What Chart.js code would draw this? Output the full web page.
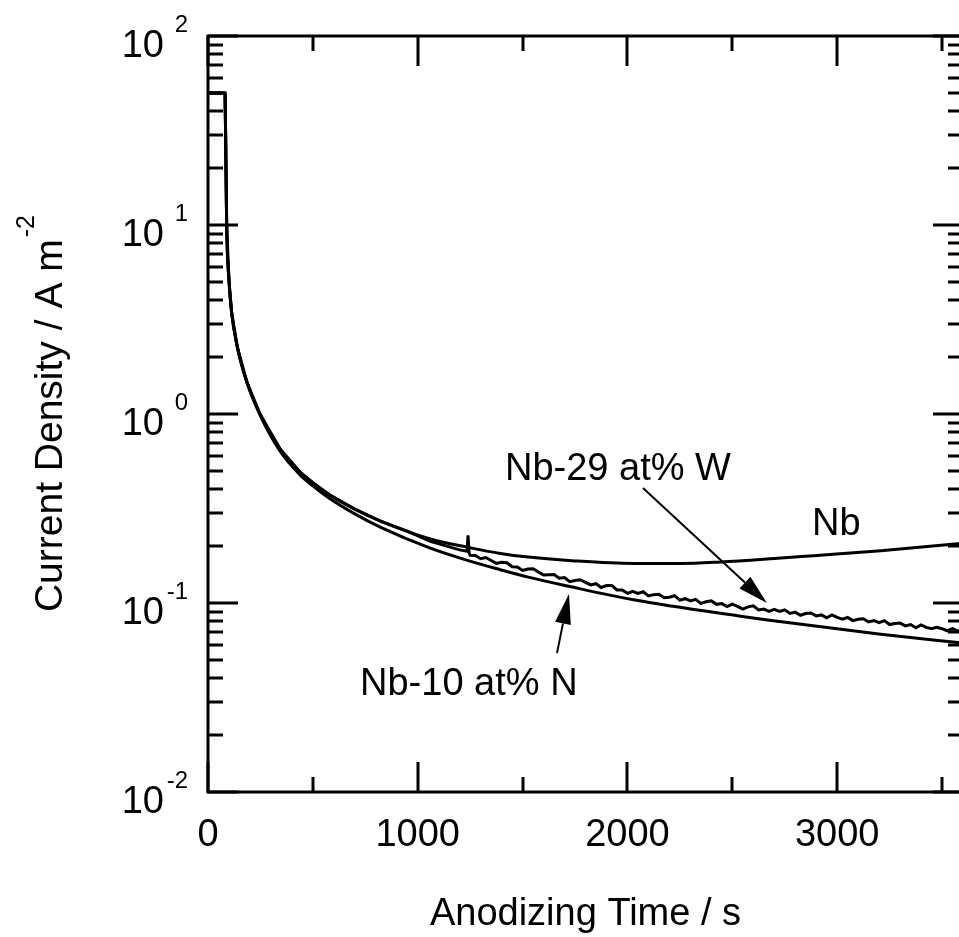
<!DOCTYPE html>
<html>
<head>
<meta charset="utf-8">
<title>Current Density vs Anodizing Time</title>
<script src="https://cdn.jsdelivr.net/npm/chart.js@4.4.1/dist/chart.umd.min.js"></script>
<style>
  html, body { margin: 0; padding: 0; background: #fff; overflow: hidden; }
  canvas { display: block; }
</style>
</head>
<body>
<canvas id="chart" width="980" height="937"></canvas>
<script>
// === 1. DATA ===
// time in s, current density in A m^-2

const nbTime    = [0, 81, 84, 89, 100, 113, 140, 185, 248, 344, 439, 500, 582, 700, 821, 1060, 1241, 1394, 1527, 1750, 2029, 2250, 2444, 2700, 2888, 3208, 3600];
const nbCurrent = [50, 50, 30, 10, 5.1, 3.42, 2.26, 1.48, 1.0, 0.653, 0.493, 0.433, 0.372, 0.314, 0.272, 0.218, 0.197, 0.183, 0.175, 0.167, 0.162, 0.162, 0.165, 0.172, 0.178, 0.189, 0.207];

const nbNTime    = [0, 81, 84, 89, 100, 113, 140, 185, 248, 344, 439, 500, 582, 700, 821, 1060, 1241, 1394, 1527, 1714, 2029, 2539, 2668, 3208, 3600];
const nbNCurrent = [50, 50, 30, 10, 5.1, 3.42, 2.26, 1.48, 0.99, 0.635, 0.476, 0.417, 0.356, 0.296, 0.252, 0.195, 0.1675, 0.150, 0.137, 0.123, 0.104, 0.0851, 0.0813, 0.0684, 0.0614];

// Nb-29 at% W is noisy after ~1250 s
const nbWTime = [0, 81, 84, 89, 100, 113, 140, 185, 248, 344, 439, 500, 582, 700, 821, 950, 1060, 1200, 1235, 1240, 1245,
  1250, 1275, 1300, 1325, 1350, 1375, 1400, 1425, 1450, 1475, 1500, 1525, 1550, 1575, 1600, 1625, 1650, 1675, 1700, 1725,
  1750, 1775, 1800, 1825, 1850, 1875, 1900, 1925, 1950, 1975, 2000, 2025, 2050, 2075, 2100, 2125, 2150, 2175, 2200, 2225,
  2250, 2275, 2300, 2325, 2350, 2375, 2400, 2425, 2450, 2475, 2500, 2525, 2550, 2575, 2600, 2625, 2650, 2675, 2700, 2725,
  2750, 2775, 2800, 2825, 2850, 2875, 2900, 2925, 2950, 2975, 3000, 3025, 3050, 3075, 3100, 3125, 3150, 3175, 3200, 3225,
  3250, 3275, 3300, 3325, 3350, 3375, 3400, 3425, 3450, 3475, 3500, 3525, 3550, 3575, 3600];
const nbWCurrent = [50, 50, 30, 10, 5.1, 3.42, 2.26, 1.48, 1.0, 0.653, 0.493, 0.433, 0.372, 0.314, 0.271, 0.240, 0.212, 0.191, 0.188, 0.228, 0.184,
  0.1786, 0.1782, 0.1714, 0.1740, 0.1679, 0.1620, 0.1644, 0.1633, 0.1556, 0.1552, 0.1486, 0.1512, 0.1517, 0.1461, 0.1406, 0.1411, 0.1416, 0.1352, 0.1365, 0.1297,
  0.1315, 0.1327, 0.1285, 0.1246, 0.1265, 0.1208, 0.1236, 0.1238, 0.1172, 0.1172, 0.1125, 0.1151, 0.1125, 0.1147, 0.1091, 0.1107, 0.1112, 0.1067, 0.1072, 0.1093,
  0.1035, 0.1054, 0.1026, 0.1046, 0.0995, 0.1015, 0.1026, 0.0984, 0.0993, 0.0958, 0.0986, 0.0959, 0.0929, 0.0954, 0.0966, 0.0919, 0.0929, 0.0902, 0.0925, 0.0902,
  0.0920, 0.0881, 0.0895, 0.0861, 0.0879, 0.0885, 0.0855, 0.0865, 0.0836, 0.0865, 0.0839, 0.0822, 0.0839, 0.0807, 0.0820, 0.0826, 0.0794, 0.0807, 0.0787, 0.0807,
  0.0769, 0.0778, 0.0783, 0.0757, 0.0769, 0.0740, 0.0766, 0.0743, 0.0731, 0.0743, 0.0731, 0.0713, 0.0731, 0.0710, 0.0714];

// axes
const X_MIN = 0, X_MAX = 3600;
const Y_MIN = 0.01, Y_MAX = 100;
const xMajorTicks = [0, 1000, 2000, 3000];
const xMinorTicks = [500, 1500, 2500, 3500];
const xTickLabels = ['0', '1000', '2000', '3000'];
const yDecades = [0.01, 0.1, 1, 10, 100];
const yExponents = ['-2', '-1', '0', '1', '2'];
const yMinorSteps = [2, 3, 4, 5, 6, 7, 8, 9];

// annotations (data coordinates)
const labelW = { text: 'Nb-29 at% W', x: 1416, y: 0.448 };
const labelNb = { text: 'Nb', x: 2880, y: 0.229 };
const labelN = { text: 'Nb-10 at% N', x: 725, y: 0.0326 };
const arrowW = { from: [2074, 0.406], to: [2665, 0.100] };
const arrowN = { from: [1664, 0.0543], to: [1721, 0.1117] };

// === 2. STYLE ===
const FONT = '"Liberation Sans", Arial, Helvetica, sans-serif';
const FONT_SIZE = 38;
const SUP_SIZE = 24;
const TITLE_Y_SIZE = 39;
const MAJOR_LEN = 30;
const MINOR_LEN = 15;

function toXY(xs, ys) {
  return xs.map((x, i) => ({ x: x, y: ys[i] }));
}

function drawText(ctx, str, x, y, size, align) {
  ctx.font = size + 'px ' + FONT;
  ctx.textAlign = align;
  ctx.textBaseline = 'alphabetic';
  ctx.fillStyle = '#000';
  ctx.fillText(str, x, y);
}

function drawArrow(ctx, x0, y0, x1, y1) {
  const ang = Math.atan2(y1 - y0, x1 - x0);
  const headLen = 30, headHalf = 8;
  const bx = x1 - headLen * Math.cos(ang), by = y1 - headLen * Math.sin(ang);
  ctx.beginPath();
  ctx.moveTo(x0, y0);
  ctx.lineTo(bx, by);
  ctx.lineWidth = 2;
  ctx.stroke();
  ctx.beginPath();
  ctx.moveTo(x1, y1);
  ctx.lineTo(bx + headHalf * Math.sin(ang), by - headHalf * Math.cos(ang));
  ctx.lineTo(bx - headHalf * Math.sin(ang), by + headHalf * Math.cos(ang));
  ctx.closePath();
  ctx.fill();
}

// === 3. FRAME, TICKS, LABELS (drawn from the chart's scales) ===
const framePlugin = {
  id: 'frame',
  afterDatasetsDraw(chart) {
    const ctx = chart.ctx;
    const xs = chart.scales.x, ys = chart.scales.y;
    const a = chart.chartArea;
    ctx.save();
    ctx.strokeStyle = '#000';
    ctx.fillStyle = '#000';
    ctx.lineWidth = 3;
    ctx.lineCap = 'butt';

    ctx.strokeRect(a.left, a.top, a.right - a.left, a.bottom - a.top);

    // x ticks, bottom and top, pointing inward
    const xTick = (v, len) => {
      const px = Math.round(xs.getPixelForValue(v));
      ctx.beginPath();
      ctx.moveTo(px, a.bottom); ctx.lineTo(px, a.bottom - len);
      ctx.moveTo(px, a.top); ctx.lineTo(px, a.top + len);
      ctx.stroke();
    };
    xMajorTicks.forEach(v => xTick(v, MAJOR_LEN));
    xMinorTicks.forEach(v => xTick(v, MINOR_LEN));

    // y ticks, left and right
    const yTick = (v, len) => {
      const py = Math.round(ys.getPixelForValue(v));
      ctx.beginPath();
      ctx.moveTo(a.left, py); ctx.lineTo(a.left + len, py);
      ctx.moveTo(a.right, py); ctx.lineTo(a.right - len, py);
      ctx.stroke();
    };
    yDecades.forEach((d, i) => {
      yTick(d, MAJOR_LEN);
      if (i < yDecades.length - 1) yMinorSteps.forEach(m => yTick(d * m, MINOR_LEN));
    });

    // x tick labels
    xMajorTicks.forEach((v, i) => {
      drawText(ctx, xTickLabels[i], xs.getPixelForValue(v), a.bottom + 54, FONT_SIZE, 'center');
    });

    // y tick labels: "10" fixed, exponent right-aligned
    yDecades.forEach((d, i) => {
      const py = ys.getPixelForValue(d);
      drawText(ctx, '10', a.left - 44, py + 21, FONT_SIZE, 'right');
      drawText(ctx, yExponents[i], a.left - 20, py - 4, SUP_SIZE, 'right');
    });

    // axis titles
    drawText(ctx, 'Anodizing Time / s', (a.left + a.right) / 2, 925, FONT_SIZE, 'center');

    ctx.save();
    ctx.translate(62, (a.top + a.bottom) / 2);
    ctx.rotate(-Math.PI / 2);
    const mainStr = 'Current Density / A m';
    ctx.font = TITLE_Y_SIZE + 'px ' + FONT;
    const mainW = ctx.measureText(mainStr).width;
    ctx.font = SUP_SIZE + 'px ' + FONT;
    const supW = ctx.measureText('-2').width;
    const startX = -(mainW + 2 + supW) / 2;
    drawText(ctx, mainStr, startX, 0, TITLE_Y_SIZE, 'left');
    drawText(ctx, '-2', startX + mainW + 2, -28, SUP_SIZE + 1, 'left');
    ctx.restore();

    // curve labels and arrows
    [labelW, labelNb, labelN].forEach(l => {
      drawText(ctx, l.text, xs.getPixelForValue(l.x), ys.getPixelForValue(l.y), FONT_SIZE, 'left');
    });
    [arrowW, arrowN].forEach(ar => {
      drawArrow(ctx,
        xs.getPixelForValue(ar.from[0]), ys.getPixelForValue(ar.from[1]),
        xs.getPixelForValue(ar.to[0]), ys.getPixelForValue(ar.to[1]));
    });

    ctx.restore();
  }
};

// === 4. CHART ===
const lineStyle = { borderColor: '#000', backgroundColor: '#000', borderWidth: 3, pointRadius: 0, fill: false };

new Chart(document.getElementById('chart').getContext('2d'), {
  type: 'line',
  data: {
    datasets: [
      Object.assign({ label: 'Nb', data: toXY(nbTime, nbCurrent), cubicInterpolationMode: 'monotone' }, lineStyle),
      Object.assign({ label: 'Nb-10 at% N', data: toXY(nbNTime, nbNCurrent), cubicInterpolationMode: 'monotone' }, lineStyle),
      Object.assign({ label: 'Nb-29 at% W', data: toXY(nbWTime, nbWCurrent), tension: 0 }, lineStyle)
    ]
  },
  options: {
    responsive: false,
    animation: false,
    layout: { padding: { left: 208, right: 17, top: 36, bottom: 145 } },
    scales: {
      x: { type: 'linear', min: X_MIN, max: X_MAX, display: false },
      y: { type: 'logarithmic', min: Y_MIN, max: Y_MAX, display: false }
    },
    plugins: { legend: { display: false }, tooltip: { enabled: false } }
  },
  plugins: [framePlugin]
});
</script>
</body>
</html>
